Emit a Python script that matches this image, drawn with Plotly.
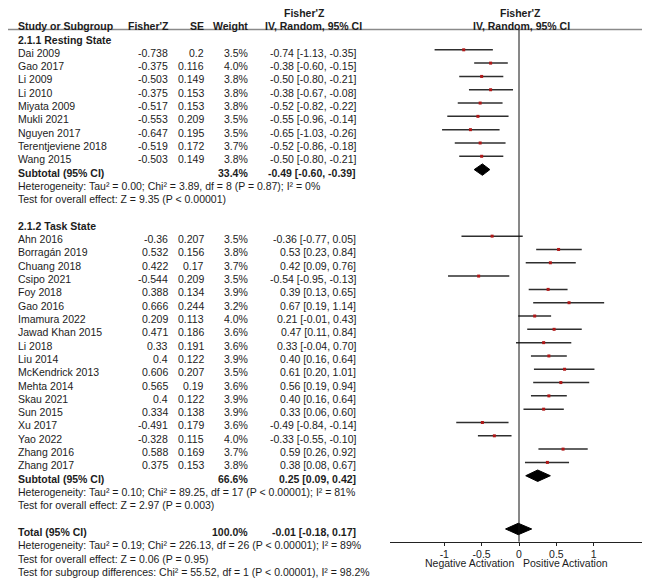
import plotly.graph_objects as go

# ---------------- data ----------------
resting_studies = ["Dai 2009", "Gao 2017", "Li 2009", "Li 2010", "Miyata 2009", "Mukli 2021",
                   "Nguyen 2017", "Terentjeviene 2018", "Wang 2015"]
resting_z = [-0.738, -0.375, -0.503, -0.375, -0.517, -0.553, -0.647, -0.519, -0.503]
resting_se = [0.2, 0.116, 0.149, 0.153, 0.153, 0.209, 0.195, 0.172, 0.149]
resting_w = [3.5, 4.0, 3.8, 3.8, 3.8, 3.5, 3.5, 3.7, 3.8]
resting_est = [-0.74, -0.38, -0.50, -0.38, -0.52, -0.55, -0.65, -0.52, -0.50]
resting_lo = [-1.13, -0.60, -0.80, -0.67, -0.82, -0.96, -1.03, -0.86, -0.80]
resting_hi = [-0.35, -0.15, -0.21, -0.08, -0.22, -0.14, -0.26, -0.18, -0.21]

task_studies = ["Ahn 2016", "Borragán 2019", "Chuang 2018", "Csipo 2021", "Foy 2018", "Gao 2016",
                "Imamura 2022", "Jawad Khan 2015", "Li 2018", "Liu 2014", "McKendrick 2013",
                "Mehta 2014", "Skau 2021", "Sun 2015", "Xu 2017", "Yao 2022", "Zhang 2016",
                "Zhang 2017"]
task_z = [-0.36, 0.532, 0.422, -0.544, 0.388, 0.666, 0.209, 0.471, 0.33, 0.4, 0.606,
          0.565, 0.4, 0.334, -0.491, -0.328, 0.588, 0.375]
task_se = [0.207, 0.156, 0.17, 0.209, 0.134, 0.244, 0.113, 0.186, 0.191, 0.122, 0.207,
           0.19, 0.122, 0.138, 0.179, 0.115, 0.169, 0.153]
task_w = [3.5, 3.8, 3.7, 3.5, 3.9, 3.2, 4.0, 3.6, 3.6, 3.9, 3.5, 3.6, 3.9, 3.9, 3.6, 4.0, 3.7, 3.8]
task_est = [-0.36, 0.53, 0.42, -0.54, 0.39, 0.67, 0.21, 0.47, 0.33, 0.40, 0.61, 0.56, 0.40,
            0.33, -0.49, -0.33, 0.59, 0.38]
task_lo = [-0.77, 0.23, 0.09, -0.95, 0.13, 0.19, -0.01, 0.11, -0.04, 0.16, 0.20, 0.19, 0.16,
           0.06, -0.84, -0.55, 0.26, 0.08]
task_hi = [0.05, 0.84, 0.76, -0.13, 0.65, 1.14, 0.43, 0.84, 0.70, 0.64, 1.01, 0.94, 0.64,
           0.60, -0.14, -0.10, 0.92, 0.67]

subtotal_labels = ["Subtotal (95% CI)", "Subtotal (95% CI)", "Total (95% CI)"]
subtotal_w = [33.4, 66.6, 100.0]
subtotal_est = [-0.49, 0.25, -0.01]
subtotal_lo = [-0.60, 0.09, -0.18]
subtotal_hi = [-0.39, 0.42, 0.17]

resting_notes = ["Heterogeneity: Tau² = 0.00; Chi² = 3.89, df = 8 (P = 0.87); I² = 0%",
                 "Test for overall effect: Z = 9.35 (P < 0.00001)"]
task_notes = ["Heterogeneity: Tau² = 0.10; Chi² = 89.25, df = 17 (P < 0.00001); I² = 81%",
              "Test for overall effect: Z = 2.97 (P = 0.003)"]
total_notes = ["Heterogeneity: Tau² = 0.19; Chi² = 226.13, df = 26 (P < 0.00001); I² = 89%",
               "Test for overall effect: Z = 0.06 (P = 0.95)",
               "Test for subgroup differences: Chi² = 55.52, df = 1 (P < 0.00001), I² = 98.2%"]

tick_vals = [-1, -0.5, 0, 0.5, 1]
tick_text = ["-1", "-0.5", "0", "0.5", "1"]

# ---------------- geometry (measured in the 650x581 window, page has 8px body margin) ----
OFF = 8
W, H = 650 - OFF, 581 - OFF
FONT = "Liberation Sans, Arial, sans-serif"
FS = 10.5
TXT = "#1c1c1c"


def fx(p):  # window x px -> paper fraction
    return (p - OFF) / W


def fy(p):  # window y px -> paper fraction
    return 1 - (p - OFF) / H


rows_rest = list(range(1, 1 + len(resting_studies)))
row_rest_sub = 10
row_task_title = 14
rows_task = list(range(15, 15 + len(task_studies)))
row_task_sub = rows_task[-1] + 1
row_total = row_task_sub + 4
sub_rows = [row_rest_sub, row_task_sub, row_total]

ROW0, ROWH = 36.5, 13.31  # window pixel of row 0 and row height


def px2row(p):
    return (p - ROW0) / ROWH


fig = go.Figure()

all_est = resting_est + task_est
all_lo = resting_lo + task_lo
all_hi = resting_hi + task_hi
all_rows = rows_rest + rows_task

lx, ly = [], []
for lo, hi, r in zip(all_lo, all_hi, all_rows):
    lx += [lo, hi, None]
    ly += [r, r, None]
fig.add_trace(go.Scatter(x=lx, y=ly, mode="lines", line=dict(color="#2e2e2e", width=1.5),
                         hoverinfo="skip", showlegend=False))
fig.add_trace(go.Scatter(x=all_est, y=all_rows, mode="markers",
                         marker=dict(symbol="square", size=3, color="#b01818"),
                         showlegend=False))

half = 0.43
for est, lo, hi, r in zip(subtotal_est, subtotal_lo, subtotal_hi, sub_rows):
    fig.add_trace(go.Scatter(x=[lo, est, hi, est, lo], y=[r, r - half, r, r + half, r],
                             mode="lines", fill="toself", fillcolor="#000000",
                             line=dict(color="#000000", width=1), showlegend=False))

ann = []


def txt(x, row, s, anchor="left", bold=False, shift=-3):
    ann.append(dict(x=fx(x), xref="paper", y=row, yref="y", text=(f"<b>{s}</b>" if bold else s),
                    xanchor=anchor, yanchor="middle", showarrow=False, yshift=shift,
                    font=dict(family=FONT, size=FS, color=TXT)))


# header
txt(304, -2, "Fisher'Z", "center", True)
txt(16, -1, "Study or Subgroup", "left", True)
txt(171, -1, "Fisher'Z", "right", True)
txt(206, -1, "SE", "right", True)
txt(250, -1, "Weight", "right", True)
txt(263, -1, "IV, Random, 95% CI", "left", True)
txt(520, -2, "Fisher'Z", "center", True)
txt(521, -1, "IV, Random, 95% CI", "center", True)

txt(16, 0, "2.1.1 Resting State", "left", True)
txt(16, row_task_title, "2.1.2 Task State", "left", True)


def study_rows(names, zs, ses, ws, ests, los, his, rows):
    for n, z, se, w, e, lo, hi, r in zip(names, zs, ses, ws, ests, los, his, rows):
        txt(16, r, n)
        txt(170, r, f"{z:g}", "right")
        txt(205.5, r, f"{se:g}", "right")
        txt(249.5, r, f"{w:.1f}%", "right")
        txt(358, r, f"{e:.2f} [{lo:.2f}, {hi:.2f}]", "right")


study_rows(resting_studies, resting_z, resting_se, resting_w, resting_est, resting_lo, resting_hi, rows_rest)
study_rows(task_studies, task_z, task_se, task_w, task_est, task_lo, task_hi, rows_task)

for lab, w, e, lo, hi, r in zip(subtotal_labels, subtotal_w, subtotal_est, subtotal_lo, subtotal_hi, sub_rows):
    txt(16, r, lab, "left", True)
    txt(249.5, r, f"{w:.1f}%", "right", True)
    txt(358, r, f"{e:.2f} [{lo:.2f}, {hi:.2f}]", "right", True)

for i, s in enumerate(resting_notes):
    txt(16, row_rest_sub + 1 + i, s)
for i, s in enumerate(task_notes):
    txt(16, row_task_sub + 1 + i, s)
for i, s in enumerate(total_notes):
    txt(16, row_total + 1 + i, s)

axis_px = 541.7
lab_px = 563.3
ann.append(dict(x=0, xref="x", y=fy(lab_px), yref="paper", text="Negative Activation",
                xanchor="right", yanchor="middle", xshift=-3, showarrow=False,
                font=dict(family=FONT, size=FS, color=TXT)))
ann.append(dict(x=0, xref="x", y=fy(lab_px), yref="paper", text="Positive Activation",
                xanchor="left", yanchor="middle", xshift=2, showarrow=False,
                font=dict(family=FONT, size=FS, color=TXT)))

header_line = fy(29.5)
shapes = [
    dict(type="line", xref="paper", yref="paper", x0=0, x1=1, y0=header_line, y1=header_line,
         line=dict(color="#8a8a8a", width=1.5)),
    dict(type="line", xref="x", yref="paper", x0=0, x1=0, y0=header_line, y1=fy(axis_px),
         line=dict(color="#111111", width=1)),
]

x0px, x1px, zpx, onepx = 390.0, 650.0, 519.0, 593.7
unit = onepx - zpx
xr = [(x0px - zpx) / unit, (x1px - zpx) / unit]

fig.update_layout(
    width=W, height=H, margin=dict(l=0, r=0, t=0, b=0),
    paper_bgcolor="white", plot_bgcolor="white",
    showlegend=False, annotations=ann, shapes=shapes,
    font=dict(family=FONT, size=FS, color=TXT),
    xaxis=dict(domain=[fx(x0px), 1], range=xr, anchor="free", position=fy(axis_px),
               showline=True, linecolor="#222222", linewidth=1, ticks="outside", ticklen=3,
               tickcolor="#222222", tickvals=tick_vals, ticktext=tick_text, showgrid=False,
               zeroline=False, tickfont=dict(family=FONT, size=FS, color=TXT)),
    yaxis=dict(domain=[0, 1], range=[px2row(581), px2row(OFF)], visible=False, showgrid=False,
               zeroline=False),
)

fig.write_html("out.html")
